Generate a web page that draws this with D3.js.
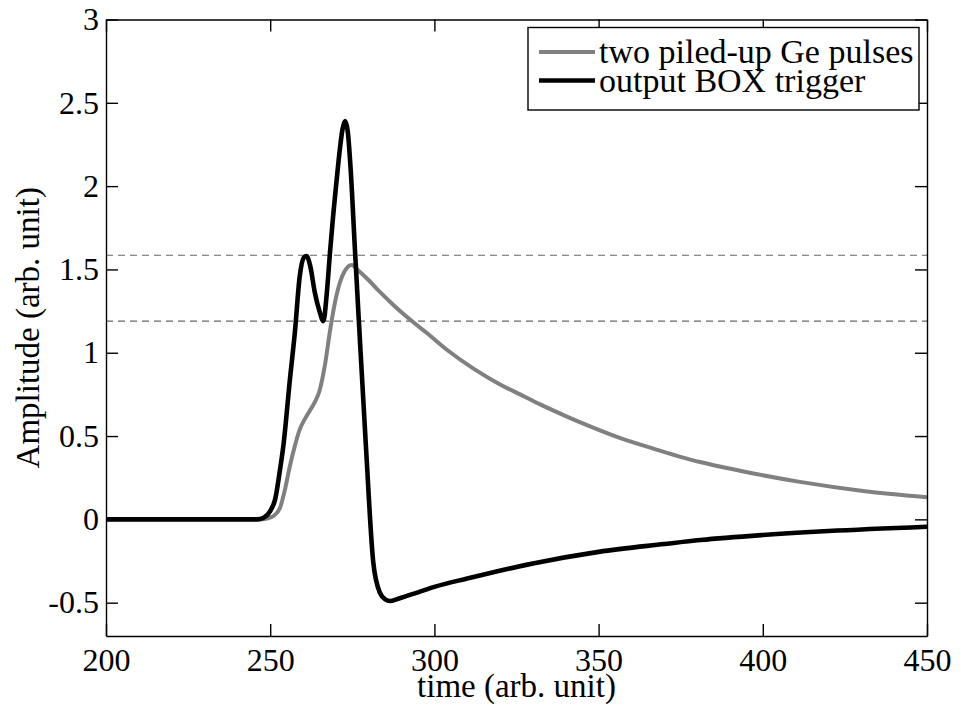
<!DOCTYPE html>
<html>
<head>
<meta charset="utf-8">
<script src="https://cdn.jsdelivr.net/npm/d3@7"></script>
<style>
  body { margin: 0; background: #fff; }
  svg { font-family: "Liberation Serif", "Times New Roman", serif; }
</style>
</head>
<body>
<svg id="chart" width="961" height="711"></svg>
<script>
/******************************** data ********************************/
// two piled-up Ge pulses (gray)
const geTime = [200, 247, 249, 251, 253, 254.5, 256, 257.5, 259, 260.5, 262, 263.5, 265, 266.7, 268.2, 269.7, 271.2, 272.7, 274.8, 277, 280, 283.4, 288, 293.6, 297.6, 304, 311.9, 320, 326.1, 332.2, 340, 346.3, 356, 366.6, 380.9, 393, 411.3, 430, 450]
const geAmp = [0, 0, 0.005, 0.02, 0.07, 0.18, 0.32, 0.44, 0.54, 0.6, 0.65, 0.7, 0.77, 0.93, 1.13, 1.3, 1.42, 1.49, 1.527, 1.49, 1.435, 1.365, 1.278, 1.183, 1.12, 1.015, 0.905, 0.81, 0.75, 0.69, 0.62, 0.567, 0.492, 0.425, 0.344, 0.292, 0.225, 0.172, 0.133]
// output BOX trigger (black)
const boxTime = [200, 246, 248, 250, 251.5, 253, 254, 256, 257.5, 259, 260.2, 261.1, 262.2, 263.6, 265, 266.2, 267.2, 268.2, 269.2, 270.2, 271.2, 272, 272.8, 273.6, 274.5, 275.8, 277, 279.2, 281.4, 283.4, 285, 286.5, 289, 295, 300, 310, 317, 330, 350, 370, 381, 400, 420, 450]
const boxAmp = [0, 0, 0.01, 0.05, 0.12, 0.3, 0.44, 0.84, 1.12, 1.46, 1.57, 1.58, 1.52, 1.36, 1.25, 1.19, 1.35, 1.6, 1.83, 2.03, 2.22, 2.34, 2.39, 2.33, 2.1, 1.62, 1.19, 0.42, -0.26, -0.44, -0.48, -0.49, -0.476, -0.438, -0.405, -0.355, -0.322, -0.265, -0.195, -0.148, -0.124, -0.094, -0.07, -0.044]
// threshold levels (dashed)
const thresholds = [1.585, 1.19]

const xTicks = [200, 250, 300, 350, 400, 450]
const yTicks = [-0.5, 0, 0.5, 1, 1.5, 2, 2.5, 3]
const seriesNames = ["two piled-up Ge pulses", "output BOX trigger"]
const seriesColors = ["#808080", "#000000"]

/******************************** drawing ********************************/
const width = 961, height = 711
const margin = { top: 19.5, right: 34, bottom: 75, left: 106 }
const svg = d3.select("#chart")

let xScale = d3.scaleLinear()
    .domain([200, 450])
    .range([margin.left, width - margin.right])
let yScale = d3.scaleLinear()
    .domain([-0.7, 3])
    .range([height - margin.bottom, margin.top])

const tickLen = 12
const fmt = d => String(d)

// dashed threshold lines
svg.selectAll(".thr")
    .data(thresholds)
    .enter()
    .append("line")
    .attr("class", "thr")
    .attr("x1", xScale(200)).attr("x2", xScale(450))
    .attr("y1", d => yScale(d)).attr("y2", d => yScale(d))
    .attr("stroke", "#666")
    .attr("stroke-width", 1.2)
    .attr("stroke-dasharray", "7,5")

const lineGen = (xs, ys) => d3.line()
    .x((d, i) => xScale(xs[i]))
    .y((d, i) => yScale(ys[i]))
    .curve(d3.curveMonotoneX)(xs)

svg.append("path")
    .attr("d", lineGen(geTime, geAmp))
    .attr("fill", "none")
    .attr("stroke", seriesColors[0])
    .attr("stroke-width", 4)
    .attr("stroke-linejoin", "round")

svg.append("path")
    .attr("d", lineGen(boxTime, boxAmp))
    .attr("fill", "none")
    .attr("stroke", seriesColors[1])
    .attr("stroke-width", 4.6)
    .attr("stroke-linejoin", "round")

// axes (inner ticks, mirrored on top and right)
const axisBottom = d3.axisBottom(xScale).tickValues(xTicks).tickSizeInner(-tickLen).tickSizeOuter(0).tickPadding(12).tickFormat(fmt)
const axisTop = d3.axisTop(xScale).tickValues(xTicks).tickSizeInner(-tickLen).tickSizeOuter(0).tickFormat("")
const axisLeft = d3.axisLeft(yScale).tickValues(yTicks).tickSizeInner(-tickLen).tickSizeOuter(0).tickPadding(7).tickFormat(fmt)
const axisRight = d3.axisRight(yScale).tickValues(yTicks).tickSizeInner(-tickLen).tickSizeOuter(0).tickFormat("")

svg.append("g").attr("class", "axis")
    .attr("transform", "translate(0," + (height - margin.bottom) + ")").call(axisBottom)
svg.append("g").attr("class", "axis")
    .attr("transform", "translate(0," + margin.top + ")").call(axisTop)
svg.append("g").attr("class", "axis")
    .attr("transform", "translate(" + margin.left + ",0)").call(axisLeft)
svg.append("g").attr("class", "axis")
    .attr("transform", "translate(" + (width - margin.right) + ",0)").call(axisRight)

svg.selectAll(".axis path").attr("stroke", "#000").attr("stroke-width", 1.4)
svg.selectAll(".axis line").attr("stroke", "#000").attr("stroke-width", 1.4)
svg.selectAll(".axis text")
    .attr("font-family", "Liberation Serif, Times New Roman, serif")
    .attr("font-size", 32)
    .attr("fill", "#000")

// axis labels
svg.append("text")
    .attr("x", (margin.left + width - margin.right) / 2).attr("y", 697)
    .attr("text-anchor", "middle")
    .attr("font-size", 33)
    .text("time (arb. unit)")

svg.append("text")
    .attr("transform", "translate(39," + ((margin.top + height - margin.bottom) / 2) + ") rotate(-90)")
    .attr("text-anchor", "middle")
    .attr("font-size", 33)
    .text("Amplitude (arb. unit)")

// legend
const legend = svg.append("g")
legend.append("rect")
    .attr("x", 528).attr("y", 27.5)
    .attr("width", 391).attr("height", 82.5)
    .attr("fill", "#fff")
    .attr("stroke", "#000")
    .attr("stroke-width", 1.4)

seriesNames.forEach((name, i) => {
    const cy = 52 + i * 28.5
    legend.append("line")
        .attr("x1", 539).attr("x2", 595)
        .attr("y1", cy).attr("y2", cy)
        .attr("stroke", seriesColors[i])
        .attr("stroke-width", i === 0 ? 4 : 4.6)
    legend.append("text")
        .attr("x", 599).attr("y", cy)
        .attr("dy", "0.33em")
        .attr("font-size", 34)
        .text(name)
})
</script>
</body>
</html>
